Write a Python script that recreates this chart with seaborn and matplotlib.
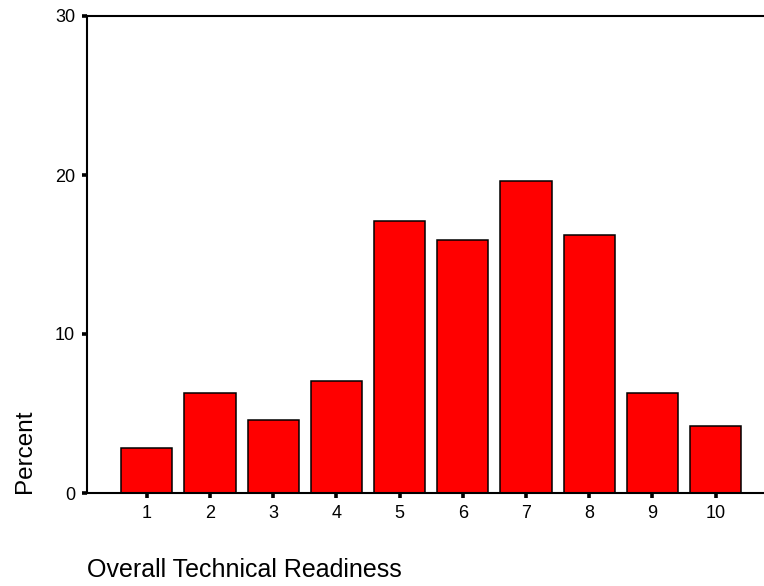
import numpy as np
import pandas as pd
import seaborn as sns
import matplotlib.pyplot as plt

# Overall Technical Readiness: percent of respondents per score
scores = ['1', '2', '3', '4', '5', '6', '7', '8', '9', '10']
percent = [2.83, 6.27, 4.61, 7.06, 17.1, 15.9, 19.6, 16.2, 6.27, 4.19]
y_ticks = [0, 10, 20, 30]

data = pd.DataFrame({'score': scores, 'percent': percent})

sns.set_style('ticks')
plt.rcParams['font.family'] = ['Liberation Sans', 'DejaVu Sans']
plt.rcParams['text.color'] = 'black'
plt.rcParams['axes.labelcolor'] = 'black'
plt.rcParams['xtick.color'] = 'black'
plt.rcParams['ytick.color'] = 'black'

fig = plt.figure(figsize=(7.64, 5.86), dpi=100)
ax = fig.add_axes([87 / 764, 1 - 493 / 586, 0.9, 477 / 586])

sns.barplot(data=data, x='score', y='percent', order=scores, color='#ff0000',
            saturation=1, edgecolor='black', linewidth=1.1, width=0.81, ax=ax)

ax.set_ylim(0, 30)
ax.set_yticks(y_ticks)
ax.set_xlim(-0.945, -0.945 + 0.9 * 764 / 63.2)

for s in ['left', 'bottom', 'top', 'right']:
    ax.spines[s].set_linewidth(1.5)
    ax.spines[s].set_color('black')

ax.tick_params(axis='both', length=3.5, width=2.6, colors='black', labelsize=13)
ax.tick_params(axis='y', pad=5)
ax.tick_params(axis='x', pad=5)

ax.set_xlabel('Overall Technical Readiness', fontsize=18, loc='left', labelpad=26)
ax.set_ylabel('Percent', fontsize=17.5, loc='bottom', labelpad=14)

fig.savefig('out.png', dpi=100)
